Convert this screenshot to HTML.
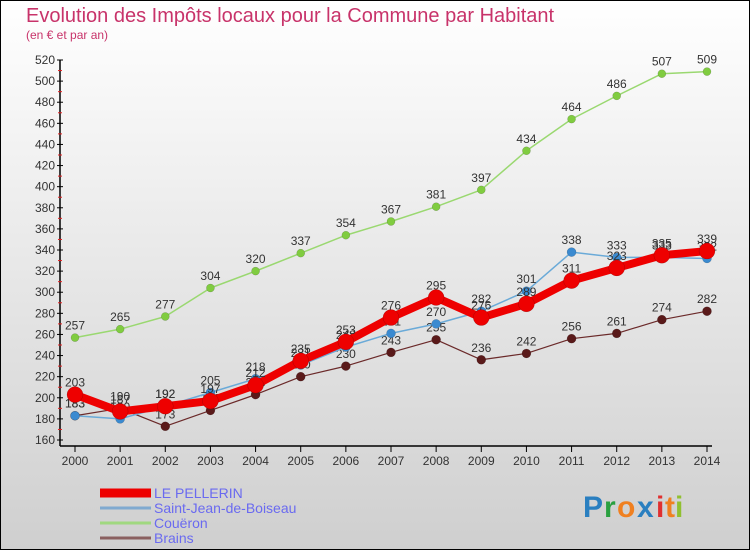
<!DOCTYPE html>
<html><head><meta charset="utf-8"><style>
body{margin:0}
#c{width:750px;height:550px;position:relative;overflow:hidden;font-family:"Liberation Sans","DejaVu Sans",sans-serif}
</style></head><body>
<div id="c">
<svg id="s" width="750" height="550" xmlns="http://www.w3.org/2000/svg">
<defs><linearGradient id="bg" x1="0" y1="0" x2="0" y2="1"><stop offset="0" stop-color="#ffffff"/><stop offset="1" stop-color="#cfcfcf"/></linearGradient></defs>
<rect x="0.5" y="0.5" width="749" height="549" fill="url(#bg)" stroke="#000"/>
<text x="26" y="22" font-size="20" fill="#c8336a">Evolution des Impôts locaux pour la Commune par Habitant</text>
<text x="26" y="39" font-size="12" fill="#c8336a">(en € et par an)</text>
<g id="axes"></g>
<g id="series"></g>
<g id="legend"></g>
<g font-size="30" font-weight="bold" font-family="'Liberation Sans',sans-serif">
<text x="583" y="517" fill="#2a7fc0">P</text><text x="604" y="517" fill="#2aa040">r</text><text x="617" y="517" fill="#f08020">o</text><text x="637" y="517" fill="#2a7fc0">x</text><text x="656" y="517" fill="#e03030">i</text><text x="665" y="517" fill="#f08020">t</text><text x="675" y="517" fill="#90c030">i</text>
</g>
</svg>
</div>
<script>
const years=[2000,2001,2002,2003,2004,2005,2006,2007,2008,2009,2010,2011,2012,2013,2014];
const pellerin=[203,187,192,197,212,235,253,276,295,276,289,311,323,335,339];
const saintJean=[183,180,192,205,218,231,248,261,270,282,301,338,333,333,332];
const coueron=[257,265,277,304,320,337,354,367,381,397,434,464,486,507,509];
const brains=[183,190,173,188,203,220,230,243,255,236,242,256,261,274,282];
const yTicks=[160,180,200,220,240,260,280,300,320,340,360,380,400,420,440,460,480,500,520];
const NS="http://www.w3.org/2000/svg";
function X(i){return 75+i*(707-75)/(years.length-1);}
function Y(v){return 440-(v-160)*(380/360);}
function mk(t,a,p){const e=document.createElementNS(NS,t);for(const k in a)e.setAttribute(k,a[k]);p.appendChild(e);return e;}
const ax=document.getElementById('axes');
let l=mk('line',{x1:60,y1:60,x2:60,y2:446,stroke:'#000','stroke-width':1.5},ax);


l=mk('line',{x1:60,y1:446,x2:712,y2:446,stroke:'#000','stroke-width':1.5},ax);


yTicks.forEach(v=>{
 mk('line',{x1:57,y1:Y(v),x2:63,y2:Y(v),stroke:'#000'},ax);
 if(v<520)mk('line',{x1:58,y1:Y(v+10),x2:62,y2:Y(v+10),stroke:'#e02020'},ax);
 const t=mk('text',{x:55,y:Y(v)+4,'font-size':12,'text-anchor':'end',fill:'#333'},ax);
 t.textContent=v;
 
 
});
years.forEach((yr,i)=>{
 mk('line',{x1:X(i),y1:446,x2:X(i),y2:452,stroke:'#000'},ax);
 const t=mk('text',{x:X(i),y:465,'font-size':12,'text-anchor':'middle',fill:'#333'},ax);
 t.textContent=yr;
 
 
});
const sg=document.getElementById('series');
const defs=[
 {n:'brains',d:brains,c:'#6b2a2a',w:1.2,r:4.5,f:'#5a1a1a'},
 {n:'coueron',d:coueron,c:'#9ad870',w:1.5,r:4,f:'#80cc40'},
 {n:'saint-jean',d:saintJean,c:'#6aaad8',w:1.5,r:4.5,f:'#3a8ad0'},
 {n:'le-pellerin',d:pellerin,c:'#ee0000',w:8,r:8,f:'#ee0000'}
];
defs.forEach(s=>{
 const g=mk('g',{},sg);
 
 
 const p=mk('polyline',{points:s.d.map((v,i)=>X(i)+','+Y(v)).join(' '),fill:'none',stroke:s.c,'stroke-width':s.w,'stroke-linejoin':'round'},g);
 
 
 s.d.forEach((v,i)=>{
  const c=mk('circle',{cx:X(i),cy:Y(v),r:s.r,fill:s.f,stroke:'rgba(0,0,0,0.25)','stroke-width':0.5},g);
  
  
  const t=mk('text',{x:X(i),y:Y(v)-8,'font-size':12,'text-anchor':'middle',fill:'#333'},g);
  t.textContent=v;
  
  
 });
});
const lg=document.getElementById('legend');
const leg=[['LE PELLERIN','#ee0000',9],['Saint-Jean-de-Boiseau','#80aad0',3],['Couëron','#a0d880',3],['Brains','#8a6060',3]];
leg.forEach((e,i)=>{
 const y=493+i*15;
 const g=mk('g',{},lg);
 
 
 mk('line',{x1:100,y1:y,x2:151,y2:y,stroke:e[1],'stroke-width':e[2]},g);
 const t=mk('text',{x:154,y:y+5,'font-size':14,fill:'#6a6af0'},g);
 t.textContent=e[0];
});
</script>
</body></html>
